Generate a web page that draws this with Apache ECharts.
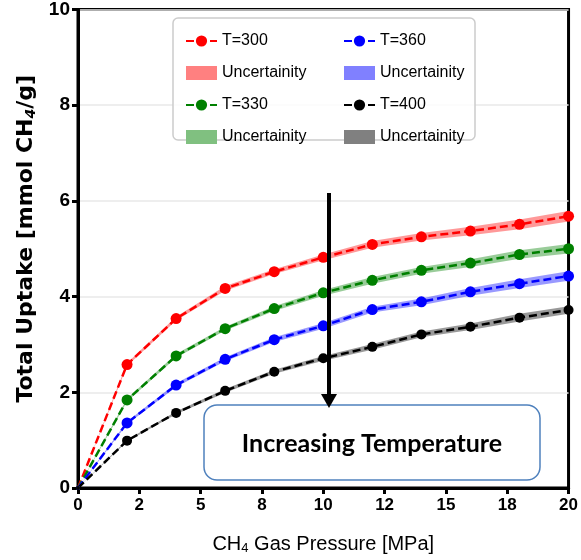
<!DOCTYPE html>
<html>
<head>
<meta charset="utf-8">
<script src="https://cdn.jsdelivr.net/npm/echarts@6/dist/echarts.min.js"></script>
<style>
  html, body { margin: 0; padding: 0; background: #fff; }
  #chart { width: 581px; height: 560px; }
</style>
</head>
<body>
<div id="chart"></div>
<script>
// pressure (MPa) and uptake (mmol CH4/g)
const pressure = [0, 2, 4, 6, 8, 10, 12, 14, 16, 18, 20];
const uptake300 = [0, 2.58, 3.54, 4.17, 4.52, 4.82, 5.09, 5.25, 5.37, 5.51, 5.68];
const uptake330 = [0, 1.84, 2.76, 3.33, 3.75, 4.08, 4.34, 4.55, 4.70, 4.88, 5.00];
const uptake360 = [0, 1.36, 2.15, 2.69, 3.10, 3.39, 3.73, 3.89, 4.10, 4.27, 4.43];
const uptake400 = [0, 0.99, 1.57, 2.03, 2.43, 2.71, 2.95, 3.21, 3.37, 3.56, 3.72];
// half width of the uncertainty band
const unc300 = [0, 0.03, 0.04, 0.05, 0.05, 0.06, 0.07, 0.08, 0.09, 0.10, 0.11];
const unc330 = [0, 0.03, 0.04, 0.04, 0.05, 0.06, 0.07, 0.07, 0.08, 0.09, 0.10];
const unc360 = [0, 0.03, 0.04, 0.04, 0.05, 0.06, 0.06, 0.07, 0.08, 0.09, 0.10];
const unc400 = [0, 0.02, 0.03, 0.04, 0.04, 0.05, 0.06, 0.06, 0.07, 0.08, 0.08];
const xTickLabels = ['0', '2', '5', '8', '10', '12', '15', '18', '20'];

const chart = echarts.init(document.getElementById('chart'));

const sans = "'Liberation Sans', Arial, sans-serif";

const groups = [
    { t: 'T=300', y: uptake300, u: unc300, color: '#ff0000', band: 'rgba(255,0,0,0.4)', pale: '#ff8080' },
    { t: 'T=330', y: uptake330, u: unc330, color: '#008000', band: 'rgba(0,128,0,0.4)', pale: '#80c080' },
    { t: 'T=360', y: uptake360, u: unc360, color: '#0000ff', band: 'rgba(0,0,255,0.4)', pale: '#8080ff' },
    { t: 'T=400', y: uptake400, u: unc400, color: '#000000', band: 'rgba(0,0,0,0.4)', pale: '#808080' }
];

const series = [];
groups.forEach(g => {
    const key = g.t.slice(2);
    // uncertainty band drawn as one polygon: upper edge then lower edge back
    series.push({
        name: 'Uncertainity ' + key,
        type: 'custom',
        silent: true,
        itemStyle: { color: g.pale },
        data: pressure.map((p, i) => [p, g.y[i] - g.u[i], g.y[i] + g.u[i]]),
        encode: { x: 0, y: [1, 2] },
        renderItem: (params, api) => {
            if (params.dataIndex !== 0) return null;
            const upper = pressure.map((p, i) => api.coord([p, g.y[i] + g.u[i]]));
            const lower = pressure.map((p, i) => api.coord([p, g.y[i] - g.u[i]])).reverse();
            return {
                type: 'polygon',
                shape: { points: upper.concat(lower) },
                style: { fill: g.band }
            };
        }
    });
});
groups.forEach(g => {
    series.push({
        name: g.t,
        type: 'line',
        z: 5,
        symbol: 'circle',
        symbolSize: (v) => v[0] === 0 ? 4 : (g.t === 'T=400' ? 10 : 11),
        itemStyle: { color: g.color },
        lineStyle: { color: g.color, width: 2.5, type: [8, 4] },
        data: pressure.map((p, i) => [p, g.y[i]])
    });
});

const legendBase = {
    orient: 'vertical',
    top: 28,
    itemGap: 16,
    itemWidth: 31,
    itemHeight: 14,
    selectedMode: false,
    formatter: (name) => name.indexOf('Uncertainity') === 0 ? 'Uncertainity' : name,
    textStyle: { fontFamily: sans, fontSize: 16, color: '#000' }
};

const option = {
    animation: false,
    backgroundColor: '#fff',
    grid: {
        left: 78, right: 11, top: 9, bottom: 72,
        show: true, borderColor: '#000', borderWidth: 3
    },
    legend: [
        Object.assign({}, legendBase, {
            left: 180,
            data: [{ name: 'T=300' }, { name: 'Uncertainity 300', icon: 'rect' },
                   { name: 'T=330' }, { name: 'Uncertainity 330', icon: 'rect' }]
        }),
        Object.assign({}, legendBase, {
            left: 338,
            data: [{ name: 'T=360' }, { name: 'Uncertainity 360', icon: 'rect' },
                   { name: 'T=400' }, { name: 'Uncertainity 400', icon: 'rect' }]
        })
    ],
    xAxis: {
        type: 'value',
        min: 0, max: 20, interval: 2.5,
        name: 'CH{sub|4} Gas Pressure [MPa]',
        nameLocation: 'middle',
        nameGap: 45,
        nameTextStyle: {
            fontFamily: sans, fontSize: 20, color: '#000',
            rich: { sub: { fontFamily: sans, fontSize: 13, color: '#000', padding: [9, 0, 0, 0] } }
        },
        axisLine: { lineStyle: { color: '#000', width: 3 } },
        axisTick: { length: 6, lineStyle: { color: '#000', width: 3 } },
        splitLine: { show: false },
        axisLabel: {
            margin: 9,
            fontFamily: sans, fontWeight: 'bold', fontSize: 17, color: '#000',
            formatter: (v) => xTickLabels[Math.round(v / 2.5)]
        }
    },
    yAxis: {
        type: 'value',
        min: 0, max: 10, interval: 2,
        name: 'Total Uptake [mmol CH{sub|4}/g]',
        nameLocation: 'middle',
        nameGap: 39,
        nameTextStyle: {
            fontFamily: 'DejaVu Sans, sans-serif', fontWeight: 'bold', fontSize: 22, color: '#000',
            padding: [0, 0, 0, 20],
            rich: { sub: { fontFamily: 'DejaVu Sans, sans-serif', fontStyle: 'italic', fontSize: 14, color: '#000', padding: [10, 0, 0, 0] } }
        },
        axisLine: { lineStyle: { color: '#000', width: 3 } },
        axisTick: { length: 6, lineStyle: { color: '#000', width: 3 } },
        splitLine: { lineStyle: { color: '#e8e8e8', width: 1.5 } },
        axisLabel: {
            margin: 8,
            fontFamily: sans, fontWeight: 'bold', fontSize: 19, color: '#000'
        }
    },
    graphic: [
        {
            type: 'rect', z: 3,
            shape: { x: 173, y: 18, width: 302, height: 122, r: 5 },
            style: { fill: 'rgba(255,255,255,0.8)', stroke: '#cccccc', lineWidth: 1.5 }
        },
        {
            type: 'rect', z: 6,
            shape: { x: 204, y: 405, width: 336, height: 75, r: 13 },
            style: { fill: '#fff', stroke: '#4f81bd', lineWidth: 1.5 }
        },
        {
            type: 'text', z: 7,
            x: 372, y: 444,
            style: {
                text: 'Increasing Temperature',
                fill: '#000',
                font: "bold 25px Lato, 'Open Sans', sans-serif",
                align: 'center', verticalAlign: 'middle'
            }
        },
        {
            type: 'line', z: 10,
            shape: { x1: 329, y1: 193, x2: 329, y2: 396 },
            style: { stroke: '#000', lineWidth: 4 }
        },
        {
            type: 'polygon', z: 10,
            shape: { points: [[321, 394], [337, 394], [329, 408]] },
            style: { fill: '#000' }
        }
    ],
    series: series
};

chart.setOption(option);
</script>
</body>
</html>
